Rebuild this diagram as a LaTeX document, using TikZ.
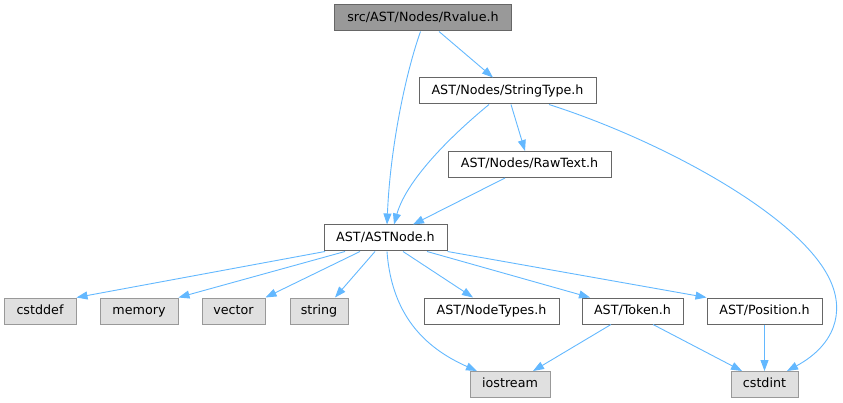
\documentclass[tikz,border=0pt]{standalone}
\usepackage{fontspec}
\setmainfont{DejaVu Sans}
\usetikzlibrary{arrows.meta}
\definecolor{edgec}{HTML}{63B8FF}
\definecolor{darkb}{HTML}{666666}
\definecolor{lightb}{HTML}{999999}
\definecolor{sysfill}{HTML}{E0E0E0}
\definecolor{mainfill}{HTML}{999999}
\tikzset{
  box/.style={draw=darkb, line width=1pt, fill=white, minimum height=26pt, inner sep=0pt,
    text height=9.3pt, text depth=2.4pt, font=\fontsize{12.7}{14}\selectfont},
  mainbox/.style={box, fill=mainfill},
  sysbox/.style={box, draw=lightb, fill=sysfill},
  dep/.style={draw=edgec, line width=0.9pt, -{Triangle[length=11pt,width=8pt]}, shorten >=0pt}
}
\begin{document}
\begin{tikzpicture}[x=1pt,y=-1pt]
\useasboundingbox (0,0) rectangle (843,403);
\node[mainbox, minimum width=177pt] (rv) at (423,18) {src/AST/Nodes/Rvalue.h};
\node[box, minimum width=177pt] (st) at (507.5,91) {AST/Nodes/StringType.h};
\node[box, minimum width=163pt] (rt) at (529.5,164.5) {AST/Nodes/RawText.h};
\node[box, minimum width=123pt] (an) at (385.5,238) {AST/ASTNode.h};
\node[sysbox, minimum width=72pt] (cstddef) at (40,311) {cstddef};
\node[sysbox, minimum width=78pt] (memory) at (139,311) {memory};
\node[sysbox, minimum width=63pt] (vector) at (233.5,311) {vector};
\node[sysbox, minimum width=58pt] (string) at (319,311) {string};
\node[box, minimum width=135pt] (nt) at (491.5,311) {AST/NodeTypes.h};
\node[box, minimum width=101pt] (tok) at (632.5,311) {AST/Token.h};
\node[box, minimum width=115pt] (pos) at (764.5,311) {AST/Position.h};
\node[sysbox, minimum width=80pt] (ios) at (510,384.5) {iostream};
\node[sysbox, minimum width=67pt] (cint) at (764.5,384.5) {cstdint};

\draw[dep] ([xshift=-2.5pt]rv.south) .. controls (405,75) and (390,150) .. ([xshift=1.5pt]an.north);
\draw[dep] ([xshift=16pt]rv.south) -- ([xshift=-14.5pt]st.north);
\draw[dep] ([xshift=-18.5pt]st.south) .. controls (440,145) and (405,185) .. ([xshift=8.5pt]an.north);
\draw[dep] ([xshift=3.5pt]st.south) -- ([xshift=-4.5pt]rt.north);
\draw[dep] ([xshift=41.5pt]st.south) .. controls (660,140) and (800,215) .. (830,280)
  .. controls (845,312) and (835,345) .. ([xshift=22.5pt]cint.north);
\draw[dep] ([xshift=-24.5pt]rt.south) -- ([xshift=27.5pt]an.north);
\draw[dep] ([xshift=-60.5pt]an.south) -- (cstddef.north east);
\draw[dep] ([xshift=-40.5pt]an.south) -- (memory.north east);
\draw[dep] ([xshift=-25.5pt]an.south) -- (vector.north east);
\draw[dep] ([xshift=-10.5pt]an.south) -- ([xshift=16pt]string.north);
\draw[dep] ([xshift=1.5pt]an.south) .. controls (392,320) and (430,350) .. ([xshift=-33pt]ios.north);
\draw[dep] ([xshift=17.5pt]an.south) -- ([xshift=-18.5pt]nt.north);
\draw[dep] ([xshift=41.5pt]an.south) -- ([xshift=-42.5pt]tok.north);
\draw[dep] (an.south east) -- (pos.north west);
\draw[dep] ([xshift=-21.5pt]tok.south) -- ([xshift=23pt]ios.north);
\draw[dep] ([xshift=20.5pt]tok.south) -- ([xshift=-22.5pt]cint.north);
\draw[dep] (pos.south) -- (cint.north);
\end{tikzpicture}
\end{document}
